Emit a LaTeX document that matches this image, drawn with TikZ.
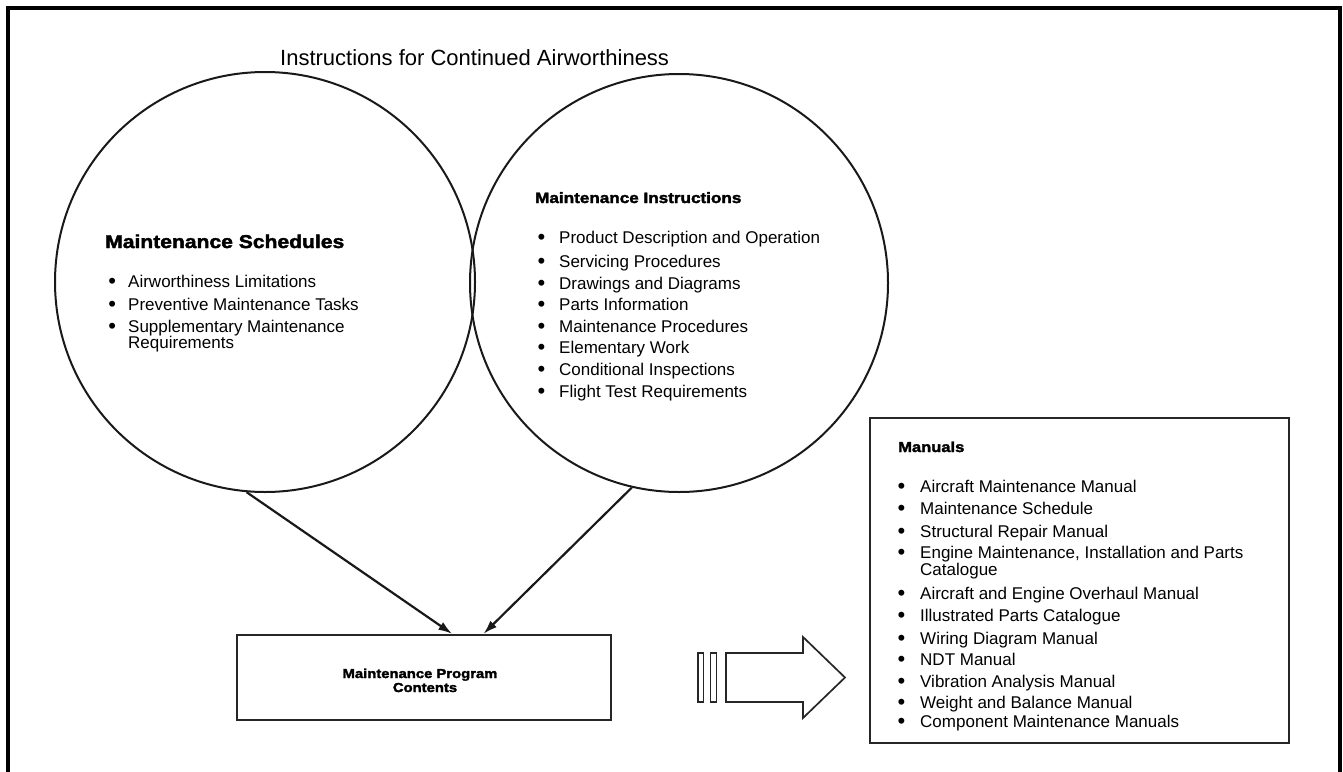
\documentclass[tikz,border=0pt]{standalone}
\usepackage{fontspec}
\setmainfont{Liberation Sans}
% wide, heavy face for the headings
\newfontfamily\heavy{Liberation Sans}[BoldFeatures={FakeStretch=1.14,FakeBold=2.2}]
\usetikzlibrary{arrows.meta,calc}

% bullet hung to the left of an item
\newcommand\bul[1]{\llap{\raisebox{-1.4pt}{\fontsize{22}{16}\selectfont\textbullet}\hspace{#1}}}

\tikzset{
  frame/.style={line width=4pt, line cap=rect},
  bubble/.style={circle, draw=black!90, line width=2pt, inner sep=0pt},
  panel/.style={rectangle, draw=black!85, line width=2.2pt, inner sep=0pt},
  item/.style={anchor=base west, inner sep=0pt, font=\fontsize{17}{16}\selectfont},
  headA/.style={anchor=base west, inner sep=0pt, font=\heavy\bfseries\fontsize{18.5}{20}\selectfont},
  headB/.style={anchor=base west, inner sep=0pt, font=\heavy\bfseries\fontsize{15}{16}\selectfont},
  headC/.style={anchor=base, inner sep=0pt, font=\heavy\bfseries\fontsize{13}{14}\selectfont},
  feed/.style={line width=2.2pt, draw=black!90, -{Latex[length=14pt,width=9pt]}},
  hollow/.style={draw=black!85, line width=1.7pt, fill=white}
}

\begin{document}
\begin{tikzpicture}[x=1pt, y=-1pt]
\useasboundingbox (0,0) rectangle (1343,771);

% outer frame (open at the bottom)
\draw[frame] (8,771) -- (8,8) -- (1340,8) -- (1340,771);

% title
\node[anchor=base west, inner sep=0pt, font=\fontsize{22}{24}\selectfont] (title) at (280,65)
  {Instructions for Continued Airworthiness};

% the two circles
\node[bubble, minimum size=420pt] (sched) at (265,282) {};
\node[bubble, minimum size=418pt] (instr) at (679,283) {};

% Maintenance Schedules
\node[headA] (schedhead) at (105,248) {Maintenance Schedules};
\foreach \y/\t [count=\i] in {287/Airworthiness Limitations,
                              310/Preventive Maintenance Tasks,
                              332/Supplementary Maintenance}
  \node[item] (sched\i) at (128,\y) {\bul{12pt}\t};
\node[item] (sched3b) at (128,348) {Requirements};

% Maintenance Instructions
\node[headB] (instrhead) at (535,203) {Maintenance Instructions};
\foreach \y/\t [count=\i] in {243/Product Description and Operation,
                              267/Servicing Procedures,
                              289/Drawings and Diagrams,
                              310/Parts Information,
                              332/Maintenance Procedures,
                              353/Elementary Work,
                              375/Conditional Inspections,
                              397/Flight Test Requirements}
  \node[item] (instr\i) at (559,\y) {\bul{14pt}\t};

% programme box
\node[panel, minimum width=374pt, minimum height=85pt] (prog) at (424,677.5) {};
\node[headC] (proghead) at (420,678) {Maintenance Program};
\node[headC] (proghead2) at (425,692) {Contents};

% feeds into the programme box
\draw[feed] (sched.265) -- ($(prog.north west)!0.575!(prog.north east)$);
\draw[feed] (instr.257) -- ($(prog.north west)!0.658!(prog.north east)$);

% Manuals box
\node[panel, minimum width=419pt, minimum height=325pt] (manuals) at (1079.5,580.5) {};
\node[headB, font=\heavy\bfseries\fontsize{14.5}{16}\selectfont] (manhead) at (898,452) {Manuals};
\foreach \y/\t [count=\i] in {492/Aircraft Maintenance Manual,
                              514/Maintenance Schedule,
                              537/Structural Repair Manual,
                              558/{Engine Maintenance, Installation and Parts},
                              599/Aircraft and Engine Overhaul Manual,
                              621/Illustrated Parts Catalogue,
                              644/Wiring Diagram Manual,
                              665/NDT Manual,
                              687/Vibration Analysis Manual,
                              708/Weight and Balance Manual,
                              727/Component Maintenance Manuals}
  \node[item] (man\i) at (920,\y) {\bul{15pt}\t};
\node[item] (man4b) at (920,575) {Catalogue};

% hollow block arrow with two bars
\draw[hollow] (698,653) rectangle (703.5,702);
\draw[hollow] (710.5,653) rectangle (716.5,702);
\draw[hollow] (726,653) -- (803,653) -- (803,637) -- (845,677.5)
  -- (803,718) -- (803,702) -- (726,702) -- cycle;

\end{tikzpicture}
\end{document}
